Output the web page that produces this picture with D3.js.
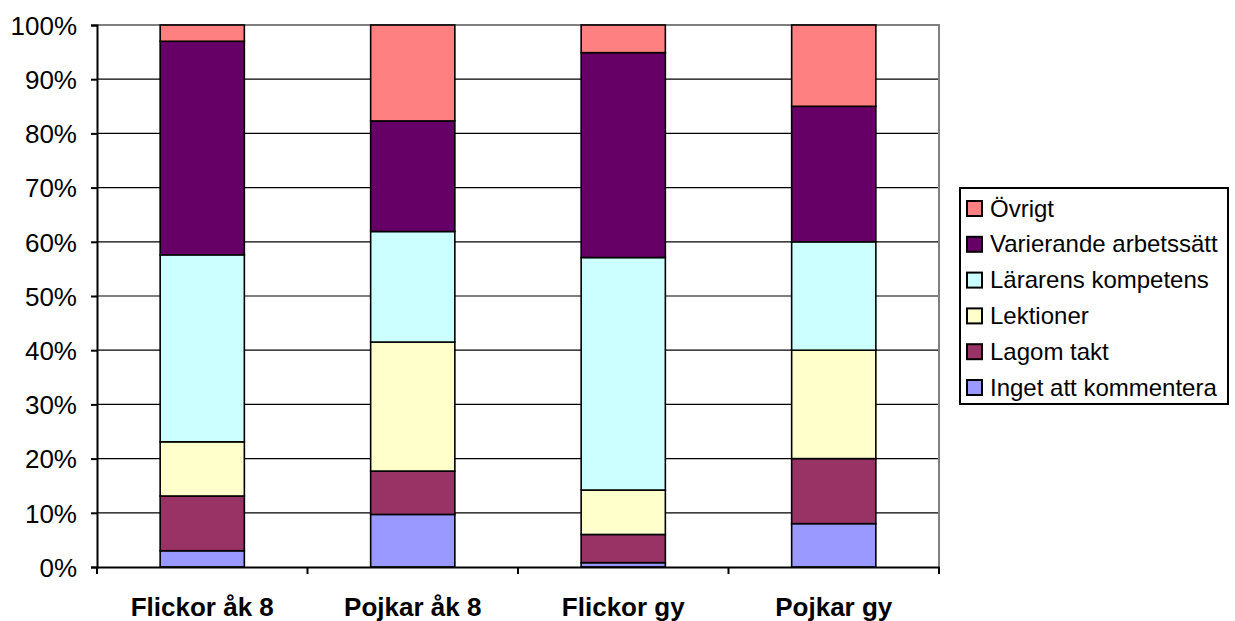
<!DOCTYPE html>
<html><head><meta charset="utf-8">
<script src="https://cdn.jsdelivr.net/npm/d3@7"></script>
<style>body{margin:0;background:#fff}svg{display:block}text{font-family:Arial,"Liberation Sans",sans-serif;fill:#000}</style>
</head><body><svg id="c" width="1235" height="621"></svg>
<script>
const categories = ["Flickor åk 8", "Pojkar åk 8", "Flickor gy", "Pojkar gy"];
const seriesNames = ["Inget att kommentera", "Lagom takt", "Lektioner", "Lärarens kompetens", "Varierande arbetssätt", "Övrigt"];
const ingetAttKommentera = [3.0, 9.7, 0.8, 8.0];
const lagomTakt = [10.1, 8.0, 5.2, 12.0];
const lektioner = [10.0, 23.8, 8.2, 20.0];
const lararensKompetens = [34.5, 20.4, 42.9, 20.0];
const varierandeArbetssatt = [39.4, 20.4, 37.8, 25.0];
const ovrigt = [3.0, 17.7, 5.1, 15.0];
const seriesColors = ["#9999FF", "#993366", "#FFFFCC", "#CCFFFF", "#660066", "#FF8080"];
const yTicks = [0, 0.1, 0.2, 0.3, 0.4, 0.5, 0.6, 0.7, 0.8, 0.9, 1.0];

const seriesValues = [ingetAttKommentera, lagomTakt, lektioner, lararensKompetens, varierandeArbetssatt, ovrigt];
const rows = categories.map((c, i) => {
  const r = {cat: c};
  seriesNames.forEach((s, j) => r[s] = seriesValues[j][i]);
  return r;
});
const stack = d3.stack().keys(seriesNames).offset(d3.stackOffsetExpand)(rows);

const svg = d3.select("#c");
const L = 97, R = 939, T = 25, B = 567;
const x = d3.scaleBand().domain(categories).range([L, R]).paddingInner(0.6).paddingOuter(0.3);
const xb = d3.scaleBand().domain(categories).range([L, R]);
const y = d3.scaleLinear().domain([0, 1]).range([B, T]);

// gridlines
svg.append("g").selectAll("line").data(yTicks.slice(1, -1)).join("line")
  .attr("x1", L).attr("x2", R).attr("y1", d => y(d)).attr("y2", d => y(d))
  .attr("stroke", "#000").attr("stroke-width", 1.2);
// plot border top/right grey
svg.append("path").attr("d", `M${L},${T}H${R}V${B}`).attr("fill", "none").attr("stroke", "#808080").attr("stroke-width", 2);

// bars
svg.append("g").selectAll("g").data(stack).join("g")
  .attr("fill", (d, i) => seriesColors[i])
  .selectAll("rect").data(d => d).join("rect")
  .attr("x", d => x(d.data.cat)).attr("width", x.bandwidth())
  .attr("y", d => y(d[1])).attr("height", d => y(d[0]) - y(d[1]))
  .attr("stroke", "#000").attr("stroke-width", 1.6);

// y axis
const ya = svg.append("g").attr("transform", `translate(${L},0)`)
  .call(d3.axisLeft(y).tickValues(yTicks).tickFormat(d3.format(".0%")).tickSize(6).tickPadding(14));
ya.select(".domain").attr("stroke", "#000").attr("stroke-width", 2);
ya.selectAll(".tick line").attr("stroke", "#000").attr("stroke-width", 2);
ya.selectAll(".tick text").attr("font-size", 26).attr("dy", "0.36em").attr("font-family", "Arial, 'Liberation Sans', sans-serif");

// x axis
const xa = svg.append("g").attr("transform", `translate(0,${B})`)
  .call(d3.axisBottom(xb).tickSize(0).tickPadding(31));
xa.select(".domain").attr("stroke", "#000").attr("stroke-width", 2);
xa.selectAll(".tick text").attr("font-size", 26).attr("font-weight", "bold").attr("font-family", "Arial, 'Liberation Sans', sans-serif");
svg.append("g").selectAll("line").data(d3.range(categories.length + 1)).join("line")
  .attr("x1", i => L + i * xb.step()).attr("x2", i => L + i * xb.step())
  .attr("y1", B).attr("y2", B + 7).attr("stroke", "#000").attr("stroke-width", 2);

// legend
const lg = svg.append("g");
lg.append("rect").attr("x", 960).attr("y", 188).attr("width", 268).attr("height", 216)
  .attr("fill", "#fff").attr("stroke", "#000").attr("stroke-width", 2);
const legendOrder = seriesNames.slice().reverse();
const ly = d3.scalePoint().domain(legendOrder).range([208, 387]);
const items = lg.selectAll("g.it").data(legendOrder).join("g").attr("class", "it")
  .attr("transform", d => `translate(967,${ly(d)})`);
items.append("rect").attr("x", 0).attr("y", -7).attr("width", 15).attr("height", 15)
  .attr("fill", d => seriesColors[seriesNames.indexOf(d)]).attr("stroke", "#000").attr("stroke-width", 2);
items.append("text").attr("x", 23).attr("y", 0).attr("dy", "0.36em").attr("font-size", 24).text(d => d);
</script></body></html>
